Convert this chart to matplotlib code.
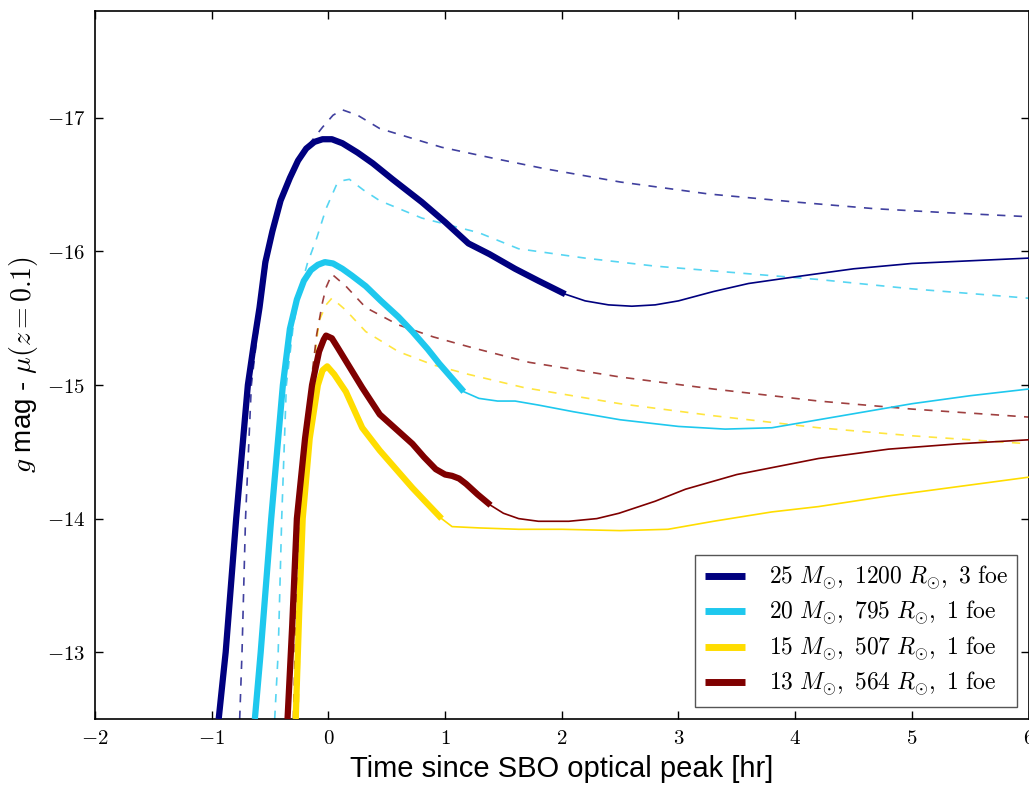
import matplotlib
matplotlib.use("Agg")
import matplotlib.pyplot as plt
from matplotlib.ticker import FuncFormatter

plt.rcParams["mathtext.fontset"] = "cm"
plt.rcParams["font.family"] = ["Liberation Sans", "DejaVu Sans"]

# ---- model light curves (time in hr, g mag - mu) ----
# 25 Msun, 1200 Rsun, 3 foe
m25_thick_t = [-0.94, -0.88, -0.79, -0.69, -0.64, -0.59, -0.54, -0.48, -0.41, -0.33, -0.26, -0.19, -0.12,
               -0.05, 0.03, 0.12, 0.25, 0.38, 0.55, 0.80, 1.00, 1.20, 1.38, 1.60, 1.80, 2.03]
m25_thick_m = [-12.5, -13.0, -14.0, -15.0, -15.3, -15.58, -15.92, -16.15, -16.38, -16.55, -16.68, -16.77, -16.82,
               -16.84, -16.84, -16.81, -16.74, -16.66, -16.54, -16.37, -16.22, -16.06, -15.98, -15.87, -15.78,
               -15.68]
m25_thin_t = [2.03, 2.2, 2.4, 2.6, 2.8, 3.0, 3.3, 3.6, 4.0, 4.5, 5.0, 5.5, 6.0]
m25_thin_m = [-15.68, -15.63, -15.60, -15.59, -15.60, -15.63, -15.70, -15.76, -15.81, -15.87, -15.91, -15.93, -15.95]
m25_dash_t = [-0.76, -0.74, -0.71, -0.66, -0.58, -0.50, -0.40, -0.28, -0.15, -0.05, 0.04, 0.12, 0.25,
              0.44, 0.97, 1.40, 1.85, 2.50, 3.26, 4.00, 4.68, 5.30, 6.00]
m25_dash_m = [-12.5, -13.0, -14.0, -15.0, -15.6, -16.05, -16.4, -16.65, -16.82, -16.93, -17.02, -17.06, -17.02,
              -16.92, -16.78, -16.70, -16.62, -16.52, -16.43, -16.37, -16.32, -16.29, -16.26]

# 20 Msun, 795 Rsun, 1 foe
m20_thick_t = [-0.63, -0.58, -0.49, -0.44, -0.39, -0.33, -0.27, -0.21, -0.15, -0.09, -0.03, 0.04, 0.12, 0.20,
               0.32, 0.45, 0.60, 0.72, 0.85, 0.95, 1.06, 1.16]
m20_thick_m = [-12.5, -13.0, -14.0, -14.5, -15.0, -15.42, -15.64, -15.78, -15.86, -15.90, -15.92, -15.91, -15.87,
               -15.82, -15.74, -15.63, -15.51, -15.40, -15.27, -15.16, -15.05, -14.95]
m20_thin_t = [1.16, 1.29, 1.45, 1.60, 1.80, 2.10, 2.50, 3.00, 3.40, 3.80, 4.20, 4.60, 5.00, 5.50, 6.00]
m20_thin_m = [-14.95, -14.90, -14.88, -14.88, -14.85, -14.80, -14.74, -14.69, -14.67, -14.68, -14.74, -14.80,
              -14.86, -14.92, -14.97]
m20_dash_t = [-0.46, -0.43, -0.40, -0.36, -0.30, -0.24, -0.18, -0.10, -0.02, 0.07, 0.12, 0.18, 0.30,
              0.44, 0.80, 1.29, 1.63, 2.20, 2.80, 3.50, 4.20, 5.00, 6.00]
m20_dash_m = [-12.5, -13.0, -14.0, -15.0, -15.45, -15.72, -15.91, -16.10, -16.32, -16.50, -16.53, -16.54, -16.46,
              -16.38, -16.25, -16.14, -16.02, -15.95, -15.89, -15.84, -15.79, -15.72, -15.65]

# 15 Msun, 507 Rsun, 1 foe
m15_thick_t = [-0.28, -0.25, -0.22, -0.16, -0.09, -0.05, -0.01, 0.05, 0.15, 0.29, 0.44, 0.58, 0.72, 0.85, 0.97]
m15_thick_m = [-12.5, -13.3, -14.0, -14.6, -15.0, -15.11, -15.14, -15.08, -14.95, -14.68, -14.51, -14.37,
               -14.23, -14.11, -14.0]
m15_thin_t = [0.97, 1.06, 1.30, 1.63, 2.00, 2.50, 2.91, 3.30, 3.80, 4.20, 4.80, 5.40, 6.00]
m15_thin_m = [-14.0, -13.94, -13.93, -13.92, -13.92, -13.91, -13.92, -13.98, -14.05, -14.09, -14.17, -14.24, -14.31]
m15_dash_t = [-0.26, -0.22, -0.16, -0.08, -0.02, 0.03, 0.15, 0.32, 0.60, 0.90, 1.20, 1.68, 2.50, 3.30, 4.20,
              5.00, 6.00]
m15_dash_m = [-12.5, -14.0, -14.9, -15.48, -15.60, -15.65, -15.56, -15.40, -15.25, -15.15, -15.08, -14.98,
              -14.86, -14.77, -14.68, -14.62, -14.56]

# 13 Msun, 564 Rsun, 1 foe
m13_thick_t = [-0.35, -0.31, -0.27, -0.20, -0.14, -0.08, -0.04, -0.02, 0.03, 0.08, 0.15, 0.29, 0.44, 0.58,
               0.72, 0.82, 0.92, 1.00, 1.06, 1.12, 1.18, 1.28, 1.39]
m13_thick_m = [-12.5, -13.2, -14.0, -14.6, -15.0, -15.25, -15.34, -15.37, -15.35, -15.28, -15.18, -14.98,
               -14.78, -14.67, -14.56, -14.46, -14.37, -14.33, -14.32, -14.30, -14.26, -14.18, -14.10]
m13_thin_t = [1.39, 1.50, 1.63, 1.80, 2.06, 2.30, 2.49, 2.80, 3.06, 3.50, 4.20, 4.80, 5.40, 6.00]
m13_thin_m = [-14.10, -14.04, -14.00, -13.98, -13.98, -14.00, -14.04, -14.13, -14.22, -14.33, -14.45, -14.52,
              -14.56, -14.59]
m13_dash_t = [-0.30, -0.27, -0.22, -0.14, -0.10, -0.05, -0.02, 0.03, 0.15, 0.32, 0.60, 0.90, 1.23, 1.72, 2.50,
              3.30, 4.20, 5.00, 6.00]
m13_dash_m = [-12.5, -13.5, -14.3, -15.08, -15.38, -15.62, -15.73, -15.83, -15.74, -15.58, -15.45, -15.36,
              -15.28, -15.17, -15.06, -14.97, -14.88, -14.82, -14.76]

labels = [r"$25\ M_{\odot},\ 1200\ R_{\odot},\ 3\ \mathrm{foe}$",
          r"$20\ M_{\odot},\ 795\ R_{\odot},\ 1\ \mathrm{foe}$",
          r"$15\ M_{\odot},\ 507\ R_{\odot},\ 1\ \mathrm{foe}$",
          r"$13\ M_{\odot},\ 564\ R_{\odot},\ 1\ \mathrm{foe}$"]
colors = ["#00007f", "#1ec8ee", "#ffdd00", "#7f0000"]

models = [
    (m25_thick_t, m25_thick_m, m25_thin_t, m25_thin_m, m25_dash_t, m25_dash_m),
    (m20_thick_t, m20_thick_m, m20_thin_t, m20_thin_m, m20_dash_t, m20_dash_m),
    (m15_thick_t, m15_thick_m, m15_thin_t, m15_thin_m, m15_dash_t, m15_dash_m),
    (m13_thick_t, m13_thick_m, m13_thin_t, m13_thin_m, m13_dash_t, m13_dash_m),
]

fig = plt.figure(figsize=(10.29, 7.85), dpi=100)
ax = fig.add_axes([0.0923, 0.0841, 0.9073, 0.9019])

# dashed comparison curves underneath
for (tt, mt, tn, mn, td, md), c in zip(models, colors):
    ax.plot(td, md, color=c, lw=1.2, ls=(0, (5, 5)), alpha=0.75, zorder=2)

# thin continuations and thick main curves
for (tt, mt, tn, mn, td, md), c in zip(models, colors):
    ax.plot(tn, mn, color=c, lw=1.2, zorder=3)
handles = []
for (tt, mt, tn, mn, td, md), c, lab in zip(models, colors, labels):
    h, = ax.plot(tt, mt, color=c, lw=4.5, solid_capstyle="butt", solid_joinstyle="round",
                 zorder=4, label=lab)
    handles.append(h)

ax.set_xlim(-2, 6)
ax.set_ylim(-12.5, -17.8)
ax.set_xticks([-2, -1, 0, 1, 2, 3, 4, 5, 6])
ax.set_yticks([-13, -14, -15, -16, -17])
tick_fmt = FuncFormatter(lambda v, pos: r"$%d$" % round(v))
ax.xaxis.set_major_formatter(tick_fmt)
ax.yaxis.set_major_formatter(tick_fmt)
ax.tick_params(direction="in", length=6, width=1, top=True, right=True, labelsize=15, pad=7)
for sp in ax.spines.values():
    sp.set_linewidth(1.2)

ax.set_xlabel("Time since SBO optical peak [hr]", fontsize=21, labelpad=5)
ax.set_ylabel(r"$g$ mag - $\mu(z=0.1)$", fontsize=20, labelpad=5)

leg = ax.legend(handles=handles, loc="lower right", fontsize=17, handlelength=1.7,
                handletextpad=1.0, labelspacing=0.3, borderaxespad=0.5, fancybox=False,
                framealpha=1.0, borderpad=0.4)
leg.get_frame().set_edgecolor("#555555")
leg.get_frame().set_linewidth(1.0)
for line in leg.get_lines():
    line.set_linewidth(5)

fig.savefig("out.png", dpi=100)
